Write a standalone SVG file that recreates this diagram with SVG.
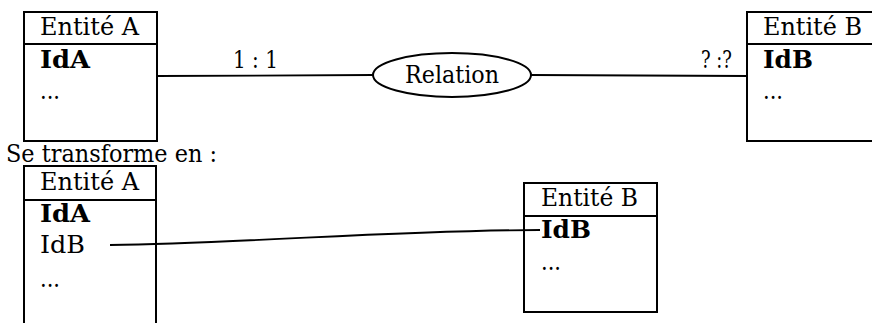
<svg xmlns="http://www.w3.org/2000/svg" width="872" height="323" viewBox="0 0 872 323">
<style>
.box{fill:none;stroke:#000;stroke-width:2}
.ln{fill:none;stroke:#000;stroke-width:1.8}
.t{font-family:'DejaVu Serif','Liberation Serif',serif;font-size:24px;fill:#000}
.b{font-weight:bold}
</style>
<rect width="872" height="323" fill="#fff"/>
<g class="t">
<g id="connectors">
<path class="ln" d="M157,76 L373,75"/>
<path class="ln" d="M531,75 L747,76"/>
<path class="ln" d="M110,245 C250,243 400,230 540,230"/>
<text x="233" y="68" textLength="45" lengthAdjust="spacingAndGlyphs">1 : 1</text>
<text x="701" y="68" textLength="31" lengthAdjust="spacingAndGlyphs">? :?</text>
</g>
<g id="entiteA1">
<rect class="box" x="24" y="12" width="133" height="129"/>
<line class="box" x1="24" y1="44" x2="157" y2="44"/>
<text x="40" y="35" textLength="99" lengthAdjust="spacingAndGlyphs">Entité A</text>
<text class="b" x="40" y="68" textLength="50" lengthAdjust="spacingAndGlyphs">IdA</text>
<text x="40" y="99" textLength="20" lengthAdjust="spacingAndGlyphs">...</text>
</g>
<g id="relation">
<ellipse class="box" cx="452" cy="75" rx="79" ry="22"/>
<text x="405" y="83" textLength="94" lengthAdjust="spacingAndGlyphs">Relation</text>
</g>
<g id="entiteB1">
<rect class="box" x="747" y="12" width="140" height="129"/>
<line class="box" x1="747" y1="44" x2="880" y2="44"/>
<text x="763" y="35" textLength="99" lengthAdjust="spacingAndGlyphs">Entité B</text>
<text class="b" x="763" y="68" textLength="50" lengthAdjust="spacingAndGlyphs">IdB</text>
<text x="763" y="99" textLength="20" lengthAdjust="spacingAndGlyphs">...</text>
</g>
<text x="6" y="162" textLength="211" lengthAdjust="spacingAndGlyphs">Se transforme en :</text>
<g id="entiteA2">
<rect class="box" x="24" y="166" width="132" height="180"/>
<line class="box" x1="24" y1="200" x2="156" y2="200"/>
<text x="40" y="190" textLength="99" lengthAdjust="spacingAndGlyphs">Entité A</text>
<text class="b" x="40" y="222" textLength="50" lengthAdjust="spacingAndGlyphs">IdA</text>
<text x="40" y="253" textLength="45" lengthAdjust="spacingAndGlyphs">IdB</text>
<text x="40" y="287" textLength="20" lengthAdjust="spacingAndGlyphs">...</text>
</g>
<g id="entiteB2">
<rect class="box" x="524" y="183" width="133" height="129"/>
<line class="box" x1="524" y1="216" x2="657" y2="216"/>
<text x="541" y="206" textLength="97" lengthAdjust="spacingAndGlyphs">Entité B</text>
<text class="b" x="541" y="238" textLength="50" lengthAdjust="spacingAndGlyphs">IdB</text>
<text x="541" y="270" textLength="20" lengthAdjust="spacingAndGlyphs">...</text>
</g>
</g>
</svg>
